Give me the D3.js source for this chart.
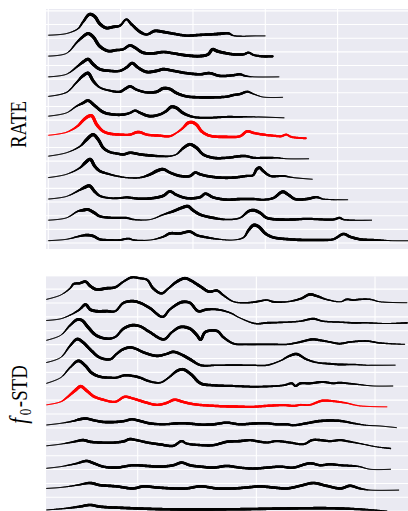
<!DOCTYPE html>
<html>
<head>
<meta charset="utf-8">
<script src="https://cdn.jsdelivr.net/npm/d3@7"></script>
<style>
  body { margin: 0; background: #fff; }
</style>
</head>
<body>
<div id="chart"></div>
<script>
// each curve: [frame, height above its baseline, spread (0..1, drawn as line width)]
// curves are listed top to bottom; the 6th one is the highlighted (red) one
const RATE_CURVES = [
  [[0,0.05,0],[25,0.17,0],[41,0.53,0.2],[48,1.02,0.6],[57,1.58,1],[64,1.43,1],[71,0.90,1],[80,0.58,0.9],[90,0.66,0.9],[99,0.75,0.6],[108,1.21,0.5],[115,0.85,0.8],[127,0.29,0.9],[136,0.10,0.6],[147,0.36,0.9],[159,0.29,0.9],[172,0.17,0.8],[191,0.02,0.7],[209,0.07,0.8],[228,0.12,0.8],[237,0.15,0.9],[249,0.19,0.7],[256,0.02,0.2],[288,0,0],[300,0,0]],
  [[0,0.02,0],[25,0.22,0],[39,1.0,0.4],[46,1.36,0.8],[55,1.67,1],[62,1.43,1],[71,0.75,1],[83,0.39,0.9],[94,0.46,0.8],[103,0.51,0.7],[113,0.8,0.8],[120,0.63,0.9],[131,0.27,0.9],[145,0.22,0.9],[159,0.32,0.8],[173,0.22,0.8],[191,0.07,0.9],[210,0.02,0.9],[221,0.15,0.9],[227,0.51,1],[233,0.39,1],[242,0.27,0.9],[256,0.15,0.8],[270,0.15,0.7],[277,0.27,0.6],[284,0.1,0.5],[297,0,0.7],[310,0,0.6]],
  [[0,0,0],[25,0.19,0],[41,0.8,0.5],[48,1.09,0.9],[55,1.29,1],[62,0.92,1],[71,0.56,0.9],[85,0.44,0.8],[99,0.44,0.7],[108,0.68,0.8],[116,1.0,0.9],[124,0.68,0.9],[136,0.36,0.9],[150,0.44,0.9],[159,0.56,0.9],[173,0.44,0.8],[191,0.27,0.8],[210,0.19,0.8],[223,0.27,0.8],[237,0.07,0.8],[256,0.12,0.7],[265,0.19,0.7],[272,0.07,0.4],[284,0,0],[319,0,0]],
  [[0,0.07,0],[25,0.36,0.1],[39,1.09,0.4],[48,1.58,0.9],[55,1.77,1],[62,1.21,0.9],[71,0.73,0.4],[85,0.49,0.5],[99,0.41,0.7],[106,0.61,0.8],[113,0.8,0.8],[122,0.56,0.7],[136,0.36,0.7],[150,0.41,0.9],[159,0.66,1],[168,0.61,0.9],[177,0.32,0.9],[191,0.07,0.8],[210,0,0.8],[228,0,0.8],[247,0.05,0.7],[256,0.17,0.7],[265,0.24,0.7],[275,0.41,0.6],[284,0.24,0.2],[297,0.02,0],[324,0,0]],
  [[0,0.12,0],[25,0.36,0],[39,0.85,0.3],[48,1.09,0.8],[55,1.26,0.9],[64,0.90,0.9],[76,0.41,0.9],[90,0.24,0.8],[104,0.24,0.8],[113,0.36,0.6],[120,0.53,0.6],[127,0.36,0.8],[140,0.12,0.9],[154,0.24,0.7],[163,0.49,0.8],[170,0.80,1],[177,0.73,1],[186,0.36,0.9],[200,0.07,0.6],[219,0,0.5],[247,0.07,0.5],[265,0.07,0.4],[284,0.07,0.1],[326,0,0]],
  [[0,0.22,0],[25,0.44,0.1],[41,0.92,0.6],[48,1.31,0.9],[55,1.60,1],[60,1.65,1],[67,1.0,1],[76,0.51,0.8],[85,0.34,0.8],[99,0.27,0.7],[113,0.27,0.7],[122,0.44,0.8],[127,0.44,0.8],[136,0.27,0.7],[154,0.19,0.7],[168,0.15,0.6],[177,0.39,0.3],[186,0.75,0.6],[193,1.12,1],[199,1.17,1],[205,0.99,1],[212,0.51,0.9],[223,0.19,0.8],[246,0.1,0.8],[265,0.15,0.7],[275,0.51,0.8],[284,0.39,0.7],[297,0.27,0.7],[311,0.19,0.6],[322,0.15,0.6],[329,0.27,0.5],[336,0.1,0.5],[356,0,0.5]],
  [[0,0.19,0],[25,0.44,0],[44,0.92,0.3],[53,1.41,1],[62,1.77,1],[69,1.41,1],[76,0.80,0.9],[85,0.49,0.7],[94,0.39,0.7],[104,0.32,0.8],[113,0.44,0.8],[127,0.32,0.8],[141,0.24,0.8],[154,0.19,0.6],[168,0.19,0.3],[177,0.32,0.2],[187,0.8,0.8],[196,1.05,1],[205,0.8,1],[214,0.32,0.8],[228,0.07,0.8],[247,0.07,0.7],[265,0.19,0.8],[274,0.19,0.7],[284,0.07,0.6],[302,0.07,0.6],[316,0.07,0.3],[330,0,0],[360,0,0]],
  [[0,0.12,0],[25,0.36,0],[44,0.85,0.4],[51,1.21,1],[58,1.46,1],[64,0.97,1],[71,0.61,0.8],[85,0.36,0.5],[99,0.19,0.3],[108,0.12,0.2],[127,0.12,0.3],[141,0.36,0.8],[150,0.61,1],[159,0.73,0.9],[168,0.49,0.8],[182,0.24,0.8],[196,0.24,0.8],[203,0.49,0.8],[210,0.36,0.8],[219,0.24,0.8],[237,0.12,0.8],[256,0.12,0.8],[274,0.24,0.7],[283,0.29,0.6],[288,0.73,0.9],[292,0.85,0.9],[297,0.61,0.8],[307,0.24,0.6],[325,0.24,0.5],[339,0.12,0.1],[365,0,0]],
  [[0,0.05,0],[25,0.24,0],[44,0.73,0.5],[51,0.92,1],[57,1.02,1],[64,0.61,0.9],[71,0.29,0.6],[85,0.12,0.4],[99,0.12,0.5],[108,0.17,0.6],[127,0.07,0.7],[145,0.12,0.8],[159,0.29,0.9],[168,0.61,0.8],[177,0.36,0.8],[191,0.12,0.8],[210,0.19,0.8],[217,0.44,0.8],[228,0.17,0.8],[247,0,0.8],[265,0.05,0.8],[284,0.05,0.7],[297,0,0.5],[311,0.12,0.7],[324,0.58,1],[332,0.36,0.9],[341,0.05,0.8],[357,0.05,0.8],[371,0.19,0.7],[380,0.05,0.2],[414,0,0]],
  [[0,0,0],[25,0.17,0],[41,0.66,0.4],[48,0.73,0.9],[55,0.78,0.9],[64,0.53,0.9],[71,0.29,0.7],[90,0.17,0.6],[108,0.17,0.6],[118,0.05,0.3],[141,0.05,0],[159,0.41,0.3],[173,0.66,0.8],[184,0.9,0.9],[193,1.02,1],[200,0.73,0.9],[210,0.41,0.8],[228,0.17,0.8],[247,0.05,0.3],[265,0.17,0.3],[277,0.66,0.8],[284,0.73,1],[293,0.53,0.9],[302,0.17,0.8],[320,0.05,0.8],[339,0.05,0.7],[357,0.1,0.6],[394,0.05,0.6],[403,0.17,0.6],[408,0.05,0.3],[447,0,0]],
  [[0,0,0],[25,0.1,0],[44,0.34,0.5],[53,0.41,0.8],[62,0.34,0.8],[71,0.1,0.7],[85,0.05,0.5],[99,0.05,0.5],[111,0.15,0.5],[118,0.05,0.3],[141,0.05,0],[159,0.29,0.5],[168,0.53,0.8],[182,0.53,0.8],[196,0.66,0.8],[205,0.41,0.7],[219,0.24,0.6],[237,0.1,0.2],[256,0.05,0],[270,0.24,0.3],[277,0.78,0.8],[284,1.14,1],[291,1.02,1],[300,0.53,0.9],[311,0.24,0.8],[334,0.1,0.8],[352,0.05,0.8],[376,0.05,0.7],[394,0.1,0.6],[408,0.49,0.8],[417,0.29,0.8],[431,0.1,0.8],[454,0.05,0.5],[475,0,0],[510,0,0]]
];

const F0_CURVES = [
  [[23,0.24,0],[35,0.55,0],[43,1.04,0.3],[46,1.35,0.6],[51,1.40,0.7],[56,1.52,0.8],[60,1.20,0.9],[65,0.96,0.9],[74,1.04,0.9],[81,1.11,0.7],[88,1.52,0.5],[95,1.83,0.7],[102,1.76,0.6],[108,1.64,0.6],[113,1.04,0.8],[120,0.67,0.7],[126,1.04,0.5],[133,1.52,0.8],[140,1.76,0.9],[145,1.59,0.8],[153,1.16,0.9],[160,0.80,0.8],[167,0.87,0.7],[172,0.55,0.5],[181,0.07,0.2],[192,0,0.3],[200,0.07,0.5],[209,0.19,0.3],[214,0.07,0.5],[226,0.07,0.2],[238,0.31,0.6],[245,0.60,0.8],[251,0.48,0.7],[259,0.24,0.3],[271,0.07,0.1],[276,0.24,0.5],[282,0.19,0.4],[287,0.24,0.4],[296,0.24,0.3],[304,0.07,0.1],[327,0,0]],
  [[23,0.22,0],[35,0.34,0],[44,0.65,0.2],[51,1.01,0.5],[56,1.37,0.9],[60,1.01,0.9],[65,0.89,0.9],[74,0.89,0.9],[81,0.89,0.5],[88,1.49,0.7],[96,1.61,0.9],[102,1.49,0.8],[110,1.13,0.8],[121,0.48,0.7],[127,1.01,0.6],[137,1.54,0.9],[144,1.49,0.8],[151,0.89,0.8],[158,1.01,0.7],[167,1.01,0.5],[178,0.77,0.3],[186,0.41,0.1],[199,0,0.3],[209,0.05,0.5],[226,0.10,0.3],[237,0.17,0.3],[248,0.34,0.6],[256,0.17,0.3],[270,0.10,0.3],[282,0.05,0.4],[293,0.05,0.3],[310,0,0.1],[327,0.05,0.4]],
  [[23,0.29,0],[35,0.65,0],[43,1.37,0.5],[49,1.78,0.9],[53,1.73,0.9],[58,1.25,1],[65,0.65,0.9],[74,0.41,0.8],[81,0.53,0.5],[88,1.13,0.8],[95,1.37,0.9],[102,1.30,0.8],[110,0.89,0.8],[122,0.36,0.8],[129,0.89,0.6],[136,1.25,0.9],[144,1.13,0.9],[150,0.65,0.9],[153,0.34,0.9],[157,0.89,0.8],[167,0.96,0.8],[172,0.53,0.7],[181,0.05,0.5],[192,0,0.4],[203,0,0.5],[214,0,0.4],[226,0,0.3],[237,0.17,0.5],[247,0.36,0.7],[254,0.29,0.6],[262,0.17,0.4],[270,0.05,0.5],[279,0.17,0.4],[293,0.24,0.4],[304,0.1,0.3],[325,0,0.1]],
  [[23,0.19,0],[35,0.55,0],[43,1.40,0.5],[49,1.88,0.9],[54,1.64,0.9],[61,1.04,0.9],[68,0.55,0.8],[77,0.43,0.7],[82,0.80,0.6],[88,1.16,0.8],[94,1.28,0.8],[99,1.16,0.7],[105,0.92,0.8],[116,0.67,0.8],[124,0.80,0.7],[130,0.96,0.8],[136,0.80,0.8],[144,0.43,0.9],[153,0,0.6],[167,0,0.3],[181,0,0.4],[195,0,0.3],[209,0,0.3],[220,0.31,0.2],[228,0.67,0.6],[234,0.80,0.8],[242,0.43,0.5],[251,0.19,0.3],[262,0.10,0.5],[270,0.05,0.5],[282,0.05,0.3],[293,0,0.1],[317,0,0]],
  [[23,0.19,0],[35,0.60,0],[43,1.33,0.4],[50,1.81,0.9],[56,1.45,0.9],[61,0.96,0.9],[68,0.67,0.8],[77,0.60,0.6],[82,0.60,0.6],[89,0.77,0.7],[96,0.72,0.7],[102,0.60,0.7],[109,0.36,0.6],[119,0.24,0.4],[126,0.60,0.4],[133,1.08,0.8],[138,1.20,0.9],[145,0.84,0.9],[153,0.19,0.9],[164,0.05,0.7],[181,0,0.6],[200,-0.05,0.5],[223,0.05,0.4],[230,0.19,0.6],[233,0,0.6],[237,0.19,0.7],[245,0.19,0.6],[256,0.29,0.6],[265,0.19,0.5],[270,0.24,0.5],[279,0.17,0.4],[287,0.1,0.2],[299,0,0],[315,0,0]],
  [[23,0.14,0],[35,0.36,0.1],[41,0.72,0.5],[47,1.16,0.9],[52,1.47,1],[57,1.16,0.9],[63,0.75,0.8],[71,0.51,0.7],[81,0.36,0.6],[89,0.72,0.7],[96,0.60,0.7],[105,0.36,0.8],[116,0.14,0.7],[124,0.27,0.7],[131,0.51,0.8],[138,0.36,0.8],[147,0.19,0.7],[164,0.07,0.7],[181,0.02,0.8],[197,0,0.6],[209,0.07,0.7],[223,0.12,0.6],[232,0.07,0.6],[237,0.14,0.5],[245,0.14,0.4],[255,0.43,0.7],[262,0.43,0.6],[276,0.27,0.3],[287,0.07,0.1],[310,0,0]],
  [[23,0.19,0],[35,0.31,0],[46,0.48,0.4],[51,0.60,0.8],[57,0.65,0.8],[63,0.53,0.7],[71,0.41,0.8],[82,0.41,0.8],[89,0.48,0.7],[95,0.60,0.7],[102,0.48,0.8],[110,0.31,0.8],[122,0.24,0.6],[133,0.31,0.8],[141,0.31,0.8],[153,0.22,0.7],[164,0.24,0.8],[175,0.36,0.7],[186,0.24,0.7],[200,0.31,0.8],[209,0.31,0.7],[217,0.24,0.7],[226,0.24,0.7],[231,0.17,0.6],[242,0.31,0.7],[254,0.48,0.8],[271,0.48,0.7],[282,0.31,0.4],[293,0.17,0.1],[304,0.12,0],[318,0,0]],
  [[23,0.19,0],[35,0.31,0],[46,0.48,0.5],[54,0.60,0.8],[60,0.48,0.8],[68,0.43,0.7],[81,0.43,0.7],[89,0.53,0.8],[93,0.67,0.8],[99,0.60,0.7],[108,0.43,0.7],[119,0.29,0.8],[130,0.19,0.7],[137,0.53,0.7],[141,0.36,0.6],[153,0.24,0.7],[164,0.24,0.7],[175,0.48,0.8],[186,0.53,0.8],[195,0.60,0.7],[200,0.53,0.7],[209,0.43,0.6],[217,0.53,0.6],[228,0.43,0.6],[240,0.31,0.5],[247,0.60,0.7],[254,0.60,0.7],[262,0.53,0.6],[271,0.60,0.6],[276,0.53,0.5],[287,0.36,0.2],[301,0.12,0.1],[313,0,0.3]],
  [[23,0.07,0],[35,0.19,0],[49,0.43,0.5],[57,0.60,0.8],[63,0.43,0.8],[71,0.19,0.7],[82,0.12,0.8],[96,0.29,0.7],[108,0.24,0.8],[119,0.19,0.8],[130,0.29,0.8],[137,0.48,0.8],[144,0.29,0.8],[153,0.19,0.8],[164,0.12,0.8],[175,0.24,0.8],[186,0.12,0.7],[197,0.05,0.7],[209,0.12,0.8],[220,0.19,0.7],[231,0.12,0.7],[245,0.43,0.8],[254,0.29,0.7],[262,0.36,0.7],[271,0.29,0.6],[282,0.24,0.5],[287,0.19,0.2],[296,0,0],[313,0,0]],
  [[23,0.12,0],[35,0.19,0],[49,0.36,0.3],[60,0.51,0.8],[68,0.36,0.8],[82,0.27,0.8],[96,0.12,0.8],[105,0.27,0.8],[116,0.19,0.8],[130,0.12,0.8],[141,0.12,0.8],[153,0.27,0.8],[167,0.12,0.8],[181,0.12,0.8],[192,0.19,0.8],[203,0.27,0.8],[214,0.19,0.8],[226,0.12,0.8],[237,0.31,0.8],[248,0.51,0.8],[259,0.31,0.8],[271,0.12,0.8],[279,0.31,0.8],[287,0.12,0.6],[296,0,0],[320,0,0]],
  [[23,0.07,0],[40,0.19,0.3],[51,0.31,0.7],[60,0.43,0.8],[68,0.31,0.8],[96,0.19,0.8],[124,0.12,0.8],[181,0.12,0.8],[237,0.19,0.8],[265,0.19,0.8],[287,0.12,0.6],[310,0,0]]
];

const HIGHLIGHT = 5;
const RATE_XTICKS = [0, 100, 200, 300, 400];
const F0_XTICKS = [100, 200, 300];
const STEP = 1.5;

const width = 408;
const height = 511;

const panels = [
  { key: 'rate', curves: RATE_CURVES, xTicks: RATE_XTICKS,
    xDomain: [-3.2, 497.3], yDomain: [-0.44, 17.14],
    left: 46, right: 408, top: 9, bottom: 249, base: 0.17, labelX: 26, labelY: 124.5 },
  { key: 'f0', curves: F0_CURVES, xTicks: F0_XTICKS,
    xDomain: [22.7, 327.8], yDomain: [-1.0, 15.93],
    left: 46, right: 408, top: 276.2, bottom: 511.2, base: -0.98, labelX: 26.5, labelY: 394.5 },
];

const svg = d3.select('#chart').append('svg')
  .attr('width', width)
  .attr('height', height)
  .style('display', 'block');

const widthScale = d3.scaleLinear().domain([0, 1]).range([0.8, 3.1]);

panels.forEach((p) => {
  const x = d3.scaleLinear().domain(p.xDomain).range([p.left, p.right]);
  const y = d3.scaleLinear().domain(p.yDomain).range([p.bottom, p.top]);

  svg.append('clipPath').attr('id', `clip-${p.key}`)
    .append('rect')
    .attr('x', p.left).attr('y', p.top)
    .attr('width', p.right - p.left).attr('height', p.bottom - p.top);

  const g = svg.append('g').attr('clip-path', `url(#clip-${p.key})`);

  g.append('rect')
    .attr('x', p.left).attr('y', p.top)
    .attr('width', p.right - p.left).attr('height', p.bottom - p.top)
    .attr('fill', '#eaeaf2');

  const yTicks = d3.range(Math.ceil(p.yDomain[0]), Math.floor(p.yDomain[1]) + 1);
  g.selectAll('.hgrid').data(yTicks).join('line')
    .attr('class', 'hgrid')
    .attr('x1', p.left).attr('x2', p.right)
    .attr('y1', d => y(d)).attr('y2', d => y(d))
    .attr('stroke', '#fff').attr('stroke-width', 1.1);

  g.selectAll('.vgrid').data(p.xTicks).join('line')
    .attr('class', 'vgrid')
    .attr('x1', d => x(d)).attr('x2', d => x(d))
    .attr('y1', p.top).attr('y2', p.bottom)
    .attr('stroke', '#fff').attr('stroke-width', 1.1);

  const n = p.curves.length;
  p.curves.forEach((curve, i) => {
    const offset = p.base + STEP * (n - 1 - i);
    const color = i === HIGHLIGHT ? '#ff0000' : '#000';
    const line = d3.line()
      .x(d => x(d[0]))
      .y(d => y(offset + d[1]))
      .curve(d3.curveCatmullRom.alpha(0.5));

    // sample the smooth path so that the width can vary along it
    const tmp = g.append('path').attr('d', line(curve)).attr('fill', 'none');
    const node = tmp.node();
    const L = node.getTotalLength();
    const pts = d3.range(0, L, 1).concat([L]).map(l => node.getPointAtLength(l));
    tmp.remove();

    const spreadAt = d3.scaleLinear()
      .domain(curve.map(d => x(d[0])))
      .range(curve.map(d => d[2]))
      .clamp(true);

    g.append('g')
      .selectAll('line')
      .data(d3.pairs(pts))
      .join('line')
      .attr('x1', d => d[0].x).attr('y1', d => d[0].y)
      .attr('x2', d => d[1].x).attr('y2', d => d[1].y)
      .attr('stroke', color)
      .attr('stroke-linecap', 'round')
      .attr('stroke-width', d => widthScale(spreadAt((d[0].x + d[1].x) / 2)));
  });

  const label = svg.append('text')
    .attr('transform', `translate(${p.labelX},${p.labelY}) scale(1,0.82) rotate(-90)`)
    .attr('text-anchor', 'middle')
    .style('font-family', '"Liberation Serif", "Times New Roman", serif')
    .style('font-size', '23px')
    .attr('fill', '#000');

  if (p.key === 'rate') {
    label.text('RATE');
  } else {
    label.append('tspan').style('font-style', 'italic').style('font-size', '26px').text('f');
    label.append('tspan').attr('dx', 3).attr('dy', 4).style('font-size', '16px').text('0');
    label.append('tspan').attr('dx', 2).attr('dy', -4).text('-STD');
  }
});
</script>
</body>
</html>
